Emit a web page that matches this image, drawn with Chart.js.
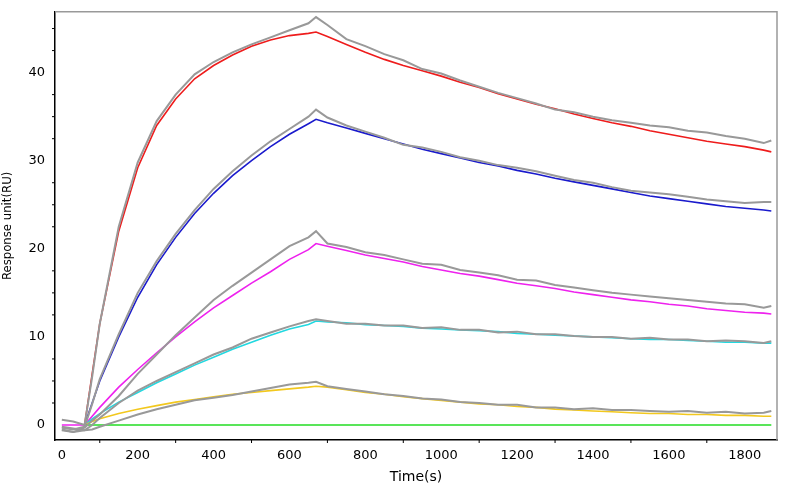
<!DOCTYPE html>
<html>
<head>
<meta charset="utf-8">
<script src="https://cdn.jsdelivr.net/npm/chart.js@4/dist/chart.umd.min.js"></script>
<style>
  html, body { margin: 0; padding: 0; background: #fff; }
  #wrap { width: 800px; height: 490px; }
</style>
</head>
<body>
<div id="wrap"><canvas id="spr"></canvas></div>
<script>
// time points (s)
const times = [0, 30, 60, 80, 100, 150, 200, 250, 300, 350, 400, 450, 500, 550, 600, 650, 670,
  700, 750, 800, 850, 900, 950, 1000, 1050, 1100, 1150, 1200, 1250, 1300, 1350, 1400, 1450,
  1500, 1550, 1600, 1650, 1700, 1750, 1800, 1850, 1870];

// measured responses (gray)
const rawRed = [0.6, 0.4, 0, 5.5, 11.5, 22.5, 29.8, 34.5, 37.5, 39.8, 41.2, 42.3, 43.2, 44.0, 44.8, 45.6, 46.3,
  45.4, 43.8, 43.0, 42.1, 41.4, 40.4, 39.9, 39.1, 38.4, 37.7, 37.1, 36.5, 35.8, 35.5, 35.0, 34.6,
  34.3, 34.0, 33.8, 33.4, 33.2, 32.8, 32.5, 32.0, 32.3];
const rawBlue = [-0.3, -0.5, -0.2, 2.4, 5.2, 10.3, 15, 18.6, 21.7, 24.4, 26.8, 28.8, 30.6, 32.2, 33.6, 35.0, 35.8,
  34.9, 34.0, 33.3, 32.6, 31.8, 31.5, 31.0, 30.4, 30.0, 29.5, 29.2, 28.8, 28.3, 27.8, 27.5, 27.0,
  26.6, 26.4, 26.2, 25.9, 25.6, 25.4, 25.2, 25.3, 25.3];
const rawMagenta = [-0.5, -0.8, -0.3, 0.5, 1.2, 3.3, 5.8, 8.0, 10.2, 12.2, 14.2, 15.8, 17.3, 18.8, 20.3, 21.3, 22.0,
  20.6, 20.2, 19.6, 19.3, 18.8, 18.3, 18.2, 17.6, 17.3, 17.0, 16.5, 16.4, 15.9, 15.6, 15.3, 15.0,
  14.8, 14.6, 14.4, 14.2, 14.0, 13.8, 13.7, 13.3, 13.5];
const rawCyan = [-0.6, -0.8, -0.6, 0, 0.8, 2.5, 3.9, 5.0, 6.0, 7.0, 8.0, 8.8, 9.8, 10.5, 11.2, 11.8, 12.0,
  11.8, 11.5, 11.5, 11.3, 11.3, 11.0, 11.1, 10.8, 10.8, 10.5, 10.6, 10.3, 10.3, 10.1, 10.0, 10.0,
  9.8, 9.9, 9.7, 9.7, 9.5, 9.6, 9.5, 9.3, 9.5];
const rawYellow = [-0.2, -0.4, -0.6, -0.5, -0.2, 0.5, 1.2, 1.8, 2.3, 2.8, 3.1, 3.4, 3.8, 4.2, 4.6, 4.8, 4.9,
  4.4, 4.1, 3.8, 3.5, 3.3, 3.0, 2.9, 2.6, 2.5, 2.3, 2.3, 2.0, 2.0, 1.8, 1.9, 1.7,
  1.7, 1.6, 1.5, 1.6, 1.4, 1.5, 1.3, 1.4, 1.6];

// fitted curves
const fitRed = [null, null, 0, 5.8, 11.5, 22, 29.2, 34, 37, 39.3, 40.8, 42, 43, 43.7, 44.2, 44.45, 44.6,
  44.1, 43.2, 42.3, 41.5, 40.8, 40.2, 39.6, 38.9, 38.3, 37.6, 37.0, 36.4, 35.9, 35.3, 34.8, 34.3,
  33.9, 33.4, 33.0, 32.6, 32.2, 31.9, 31.6, 31.2, 31.0];
const fitBlue = [null, null, 0, 2.5, 5, 10, 14.5, 18.2, 21.3, 24, 26.3, 28.3, 30, 31.6, 33, 34.2, 34.7,
  34.3, 33.7, 33.1, 32.5, 31.9, 31.3, 30.8, 30.3, 29.8, 29.4, 28.9, 28.5, 28.0, 27.6, 27.2, 26.8,
  26.4, 26.0, 25.7, 25.4, 25.1, 24.8, 24.6, 24.4, 24.3];
const fitMagenta = [0, 0, 0, 1, 2, 4.3, 6.3, 8.2, 10, 11.7, 13.3, 14.7, 16.1, 17.4, 18.8, 19.9, 20.6,
  20.3, 19.8, 19.3, 18.9, 18.5, 18.0, 17.6, 17.2, 16.9, 16.5, 16.1, 15.8, 15.5, 15.1, 14.8, 14.5,
  14.2, 14.0, 13.7, 13.5, 13.2, 13.0, 12.8, 12.7, 12.6];
const fitCyan = [null, null, 0, 0.7, 1.3, 2.6, 3.7, 4.8, 5.8, 6.8, 7.7, 8.6, 9.4, 10.2, 10.9, 11.4, 11.8,
  11.7, 11.6, 11.4, 11.3, 11.2, 11.0, 10.9, 10.8, 10.7, 10.6, 10.4, 10.3, 10.2, 10.1, 10.0, 9.9,
  9.8, 9.7, 9.7, 9.6, 9.5, 9.4, 9.4, 9.3, 9.3];
const fitYellow = [null, null, 0, 0.4, 0.7, 1.3, 1.8, 2.2, 2.6, 2.9, 3.2, 3.5, 3.7, 3.9, 4.1, 4.3, 4.4,
  4.3, 4.0, 3.7, 3.5, 3.2, 3.0, 2.8, 2.6, 2.4, 2.3, 2.1, 2.0, 1.8, 1.7, 1.6, 1.5,
  1.4, 1.3, 1.3, 1.2, 1.2, 1.1, 1.1, 1.0, 1.0];
const fitGreen = [null, null, 0, 0, 0, 0, 0, 0, 0, 0, 0, 0, 0, 0, 0, 0, 0,
  0, 0, 0, 0, 0, 0, 0, 0, 0, 0, 0, 0, 0, 0, 0, 0,
  0, 0, 0, 0, 0, 0, 0, 0, 0];

const xTicks = [0, 200, 400, 600, 800, 1000, 1200, 1400, 1600, 1800];
const yTicks = [0, 10, 20, 30, 40];

function pts(vals) {
  return times.map((t, i) => ({ x: t, y: vals[i] }));
}

function line(vals, color, width) {
  return {
    data: pts(vals),
    borderColor: color,
    borderWidth: width,
    pointRadius: 0,
    tension: 0,
    fill: false
  };
}

const datasets = [
  line(rawRed, "#999999", 2),
  line(rawBlue, "#999999", 2),
  line(rawMagenta, "#999999", 2),
  line(rawCyan, "#999999", 2),
  line(rawYellow, "#999999", 2),
  line(fitGreen, "#22dd22", 1.6),
  line(fitYellow, "#f2c81e", 1.6),
  line(fitCyan, "#22d8e0", 1.6),
  line(fitMagenta, "#ee22ee", 1.6),
  line(fitBlue, "#1a1acc", 1.6),
  line(fitRed, "#ee1c1c", 1.6)
];

// gray frame on top/right plus minor ticks
const framePlugin = {
  id: "frame",
  afterDraw(chart) {
    const { ctx, chartArea: a, scales } = chart;
    ctx.save();
    ctx.strokeStyle = "#999";
    ctx.lineWidth = 1.5;
    ctx.beginPath();
    ctx.moveTo(a.left, a.top);
    ctx.lineTo(a.right, a.top);
    ctx.lineTo(a.right, a.bottom);
    ctx.stroke();
    ctx.strokeStyle = "#000";
    ctx.lineWidth = 1;
    ctx.beginPath();
    for (let v = -100; v <= 1900; v += 100) {
      if (v % 200 === 0) continue;
      const px = scales.x.getPixelForValue(v);
      if (px < a.left || px > a.right) continue;
      ctx.moveTo(px, a.bottom);
      ctx.lineTo(px, a.bottom + 3);
    }
    for (let v = 0; v <= 45; v += 2.5) {
      if (v % 10 === 0) continue;
      const py = scales.y.getPixelForValue(v);
      ctx.moveTo(a.left, py);
      ctx.lineTo(a.left - 3, py);
    }
    ctx.stroke();
    ctx.restore();
  }
};

new Chart(document.getElementById("spr"), {
  type: "line",
  data: { datasets },
  plugins: [framePlugin],
  options: {
    responsive: true,
    maintainAspectRatio: false,
    animation: false,
    layout: { padding: { top: 8, right: 23, left: 0, bottom: 0 } },
    plugins: { legend: { display: false }, tooltip: { enabled: false } },
    scales: {
      x: {
        type: "linear",
        min: -18,
        max: 1885,
        afterBuildTicks: (s) => { s.ticks = xTicks.map(v => ({ value: v })); },
        afterFit: (s) => { s.height = 50; },
        grid: { display: false, drawTicks: true, tickLength: 6, tickColor: "#000" },
        border: { color: "#000", width: 1.5 },
        ticks: { color: "#000", font: { family: "DejaVu Sans", size: 13 }, padding: 2, maxRotation: 0,
          callback: (v) => String(v) },
        title: { display: true, text: "Time(s)", color: "#000", font: { family: "DejaVu Sans", size: 14 }, padding: { top: 0 } }
      },
      y: {
        min: -1.7,
        max: 46.9,
        afterBuildTicks: (s) => { s.ticks = yTicks.map(v => ({ value: v })); },
        afterFit: (s) => { s.width = 55; },
        grid: { display: false, drawTicks: true, tickLength: 6, tickColor: "#000" },
        border: { color: "#000", width: 1.5 },
        ticks: { color: "#000", font: { family: "DejaVu Sans", size: 13 }, padding: 4,
          callback: (v) => String(v) },
        title: { display: true, text: "Response unit(RU)", color: "#000", font: { family: "DejaVu Sans Condensed, DejaVu Sans", size: 13 }, padding: 0 }
      }
    }
  }
});
</script>
</body>
</html>
